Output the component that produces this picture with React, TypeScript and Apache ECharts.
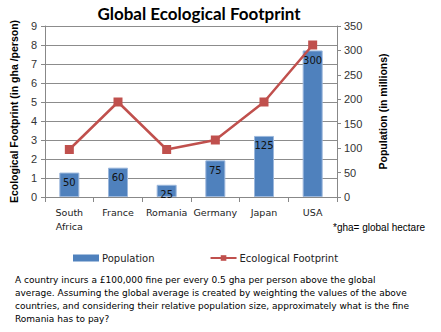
import React, { useEffect, useRef } from "react";
import * as echarts from "echarts";

const categories = ["South\nAfrica", "France", "Romania", "Germany", "Japan", "USA"];
const population = [50, 60, 25, 75, 125, 300];
const footprint = [2.5, 5, 2.5, 3, 5, 8];
const leftTicks = { min: 0, max: 9, interval: 1 };
const rightTicks = { min: 0, max: 350, interval: 50 };
const questionLines = [
  "A country incurs a £100,000 fine per every 0.5 gha per person above the global",
  "average. Assuming the global average is created by weighting the values of the above",
  "countries, and considering their relative population size, approximately what is the fine",
  "Romania has to pay?",
];

export default function App() {
  const ref = useRef<HTMLDivElement>(null);
  useEffect(() => {
    const chart = echarts.init(ref.current!, null, { renderer: "svg" });
    const axisFont = { fontFamily: "Liberation Sans", fontSize: 11, color: "#333" };
    chart.setOption({
      animation: false,
      backgroundColor: "#fff",
      title: {
        text: "Global Ecological Footprint",
        left: 194,
        textAlign: "center",
        top: 0,
        textStyle: { fontFamily: "Lato", fontWeight: "bold", fontSize: 17, color: "#000" },
      },
      grid: { left: 42, right: 104, top: 26, bottom: 135 },
      legend: {
        left: 68,
        top: 248,
        itemWidth: 26,
        itemHeight: 7,
        itemGap: 55,
        textStyle: { fontFamily: "DejaVu Sans", fontSize: 10, color: "#222", padding: [0, 0, 0, -2] },
        data: [
          { name: "Population", icon: "rect", itemStyle: { borderWidth: 0 } },
          { name: "Ecological Footprint" },
        ],
      },
      xAxis: {
        type: "category",
        data: categories,
        axisLine: { lineStyle: { color: "#888" } },
        axisTick: { show: true, length: 5, lineStyle: { color: "#888" } },
        axisLabel: { interval: 0, fontFamily: "DejaVu Sans", fontSize: 9.5, color: "#222", lineHeight: 14, margin: 8 },
      },
      yAxis: [
        {
          type: "value",
          ...leftTicks,
          name: "Ecological Footprint (in gha /person)",
          nameLocation: "middle",
          nameGap: 26,
          nameTextStyle: { fontFamily: "Liberation Sans", fontWeight: "bold", fontSize: 10.5, color: "#000" },
          axisLine: { show: true, lineStyle: { color: "#888" } },
          axisTick: { show: true, length: 4, lineStyle: { color: "#888" } },
          axisLabel: { ...axisFont, margin: 8 },
          splitLine: { lineStyle: { color: "#8c8c8c" } },
        },
        {
          type: "value",
          ...rightTicks,
          name: "Population (in millions)",
          nameLocation: "middle",
          nameGap: 40,
          nameRotate: 90,
          nameTextStyle: { fontFamily: "Liberation Sans", fontWeight: "bold", fontSize: 10.5, color: "#000" },
          axisLine: { show: true, lineStyle: { color: "#888" } },
          axisTick: { show: true, length: 4, lineStyle: { color: "#888" } },
          axisLabel: { ...axisFont, margin: 7 },
          splitLine: { show: false },
        },
      ],
      series: [
        {
          name: "Population",
          type: "bar",
          yAxisIndex: 1,
          data: population,
          barWidth: 20,
          itemStyle: { color: "#4F81BD", borderColor: "#9bb7dc", borderWidth: 1 },
          label: {
            show: true,
            position: "insideTop",
            distance: 5,
            fontFamily: "DejaVu Sans",
            fontSize: 10,
            color: "#111",
          },
          z: 1,
        },
        {
          name: "Ecological Footprint",
          type: "line",
          yAxisIndex: 0,
          data: footprint,
          symbol: "rect",
          symbolSize: 9,
          lineStyle: { color: "#C0504D", width: 2.5 },
          itemStyle: { color: "#C0504D" },
          z: 3,
        },
      ],
      graphic: [
        {
          type: "text",
          left: 333,
          top: 222,
          style: { text: "*gha= global hectare", fontFamily: "Liberation Sans", fontSize: 10, fill: "#000" },
        },
        ...questionLines.map((t, i) => ({
          type: "text",
          left: 15,
          top: 275 + i * 13,
          style: { text: t, fontFamily: "DejaVu Sans", fontSize: 9, fill: "#000" },
        })),
      ],
    });
    return () => chart.dispose();
  }, []);
  return <div ref={ref} style={{ position: "absolute", left: 0, top: 0, width: 441, height: 332 }} />;
}
